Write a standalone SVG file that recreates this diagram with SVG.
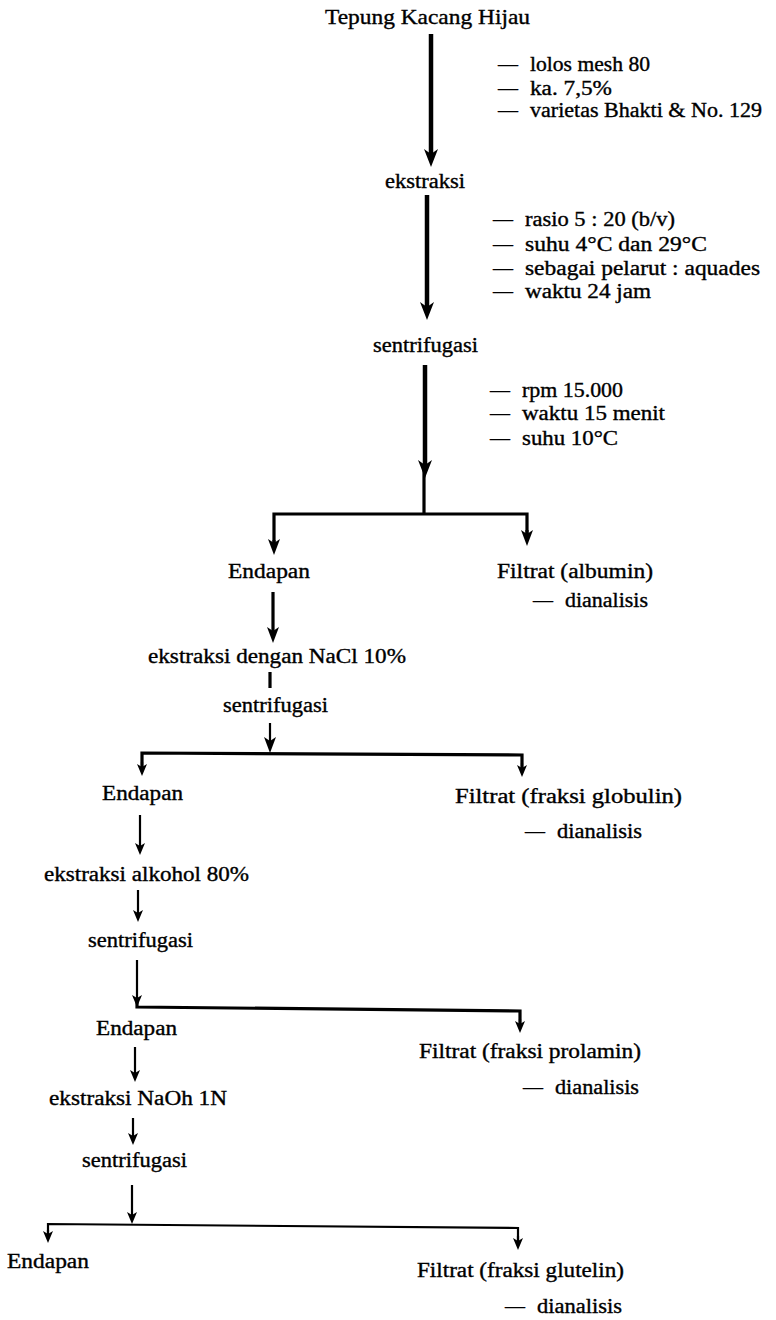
<svg xmlns="http://www.w3.org/2000/svg" width="776" height="1320" viewBox="0 0 776 1320">
<style>
.t{font-family:'Liberation Serif','Times New Roman','DejaVu Serif',serif;font-size:20px;fill:#000;stroke:#000;stroke-width:0.35}
.ti{font-size:21px}
.c{stroke:#000;fill:none;stroke-linecap:butt}
.w4{stroke-width:4.5}
.w3{stroke-width:3.2}
.w2{stroke-width:2.2}
</style>
<defs>
<marker id="hb" viewBox="0 0 18 14" refX="10" refY="7" markerWidth="18" markerHeight="14" orient="auto" markerUnits="userSpaceOnUse"><path d="M0,0 L18,7 L0,14 L5,7 Z" fill="#000"/></marker>
<marker id="hm" viewBox="0 0 16 12" refX="9" refY="6" markerWidth="16" markerHeight="12" orient="auto" markerUnits="userSpaceOnUse"><path d="M0,0 L16,6 L0,12 L4,6 Z" fill="#000"/></marker>
<marker id="hs" viewBox="0 0 12 10" refX="6" refY="5" markerWidth="12" markerHeight="10" orient="auto" markerUnits="userSpaceOnUse"><path d="M0,0 L12,5 L0,10 L3,5 Z" fill="#000"/></marker>
</defs>
<rect width="776" height="1320" fill="#fff"/>

<g id="connectors">
<line class="c w4" x1="431" y1="34" x2="431" y2="159" marker-end="url(#hb)"/>
<line class="c w4" x1="427" y1="195" x2="427" y2="312" marker-end="url(#hb)"/>
<line class="c w4" x1="425" y1="365" x2="425" y2="470" marker-end="url(#hb)"/>
<line class="c w3" x1="424" y1="470" x2="424" y2="514"/>
<polyline class="c w3" points="274,548 274,514 527,514 527,539"/>
<line class="c w3" x1="274" y1="540" x2="274" y2="548" marker-end="url(#hm)"/>
<line class="c w3" x1="527" y1="530" x2="527" y2="539" marker-end="url(#hm)"/>
<line class="c w3" x1="273" y1="592" x2="273" y2="636" marker-end="url(#hm)"/>
<line class="c w3" x1="270" y1="672" x2="270" y2="688"/>
<line class="c w2" x1="270" y1="723" x2="270" y2="746" marker-end="url(#hm)"/>
<polyline class="c w3" points="142,770 142,753 522,755 522,771"/>
<line class="c w2" x1="142" y1="762" x2="142" y2="770" marker-end="url(#hs)"/>
<line class="c w2" x1="522" y1="763" x2="522" y2="771" marker-end="url(#hs)"/>
<line class="c w2" x1="140" y1="815" x2="140" y2="849" marker-end="url(#hs)"/>
<line class="c w2" x1="138" y1="890" x2="138" y2="916" marker-end="url(#hs)"/>
<line class="c w2" x1="137" y1="960" x2="137" y2="1001" marker-end="url(#hs)"/>
<polyline class="c w3" points="137,998 137,1007 520,1011 520,1027"/>
<line class="c w2" x1="520" y1="1019" x2="520" y2="1027" marker-end="url(#hs)"/>
<line class="c w2" x1="135" y1="1047" x2="135" y2="1076" marker-end="url(#hs)"/>
<line class="c w2" x1="133" y1="1118" x2="133" y2="1139" marker-end="url(#hs)"/>
<line class="c w2" x1="132" y1="1185" x2="132" y2="1218" marker-end="url(#hs)"/>
<polyline class="c w2" points="48,1237 48,1224 518,1228 518,1244"/>
<line class="c w2" x1="48" y1="1230" x2="48" y2="1237" marker-end="url(#hs)"/>
<line class="c w2" x1="518" y1="1236" x2="518" y2="1244" marker-end="url(#hs)"/>
</g>

<g font-family="Liberation Serif, Times New Roman, DejaVu Serif, serif">
<g id="n-tepung"><text class="t ti" x="325" y="24" textLength="205" lengthAdjust="spacingAndGlyphs">Tepung Kacang Hijau</text></g>
<g id="n-notes1">
<text class="t" x="498" y="71">— <tspan x="530" textLength="120" lengthAdjust="spacingAndGlyphs">lolos mesh 80</tspan></text>
<text class="t" x="498" y="95">— <tspan x="530" textLength="82" lengthAdjust="spacingAndGlyphs">ka. 7,5%</tspan></text>
<text class="t" x="498" y="117">— <tspan x="530" textLength="232" lengthAdjust="spacingAndGlyphs">varietas Bhakti &amp; No. 129</tspan></text>
</g>
<g id="n-ekstraksi"><text class="t" x="385" y="188" textLength="80" lengthAdjust="spacingAndGlyphs">ekstraksi</text></g>
<g id="n-notes2">
<text class="t" x="493" y="226">— <tspan x="525" textLength="150" lengthAdjust="spacingAndGlyphs">rasio 5 : 20 (b/v)</tspan></text>
<text class="t" x="493" y="251">— <tspan x="525" textLength="182" lengthAdjust="spacingAndGlyphs">suhu 4°C dan 29°C</tspan></text>
<text class="t" x="493" y="275">— <tspan x="525" textLength="235" lengthAdjust="spacingAndGlyphs">sebagai pelarut : aquades</tspan></text>
<text class="t" x="493" y="298">— <tspan x="525" textLength="126" lengthAdjust="spacingAndGlyphs">waktu 24 jam</tspan></text>
</g>
<g id="n-sentrifugasi1"><text class="t" x="373" y="352" textLength="105" lengthAdjust="spacingAndGlyphs">sentrifugasi</text></g>
<g id="n-notes3">
<text class="t" x="490" y="397">— <tspan x="522" textLength="101" lengthAdjust="spacingAndGlyphs">rpm 15.000</tspan></text>
<text class="t" x="490" y="420">— <tspan x="522" textLength="143" lengthAdjust="spacingAndGlyphs">waktu 15 menit</tspan></text>
<text class="t" x="490" y="445">— <tspan x="522" textLength="96" lengthAdjust="spacingAndGlyphs">suhu 10°C</tspan></text>
</g>
<g id="n-endapan1"><text class="t" x="228" y="578" textLength="82" lengthAdjust="spacingAndGlyphs">Endapan</text></g>
<g id="n-albumin">
<text class="t" x="497" y="578" textLength="156" lengthAdjust="spacingAndGlyphs">Filtrat (albumin)</text>
<text class="t" x="533" y="607">— <tspan x="565" textLength="83" lengthAdjust="spacingAndGlyphs">dianalisis</tspan></text>
</g>
<g id="n-nacl"><text class="t" x="148" y="663" textLength="258" lengthAdjust="spacingAndGlyphs">ekstraksi dengan NaCl 10%</text></g>
<g id="n-sentrifugasi2"><text class="t" x="223" y="712" textLength="105" lengthAdjust="spacingAndGlyphs">sentrifugasi</text></g>
<g id="n-endapan2"><text class="t" x="102" y="800" textLength="81" lengthAdjust="spacingAndGlyphs">Endapan</text></g>
<g id="n-globulin">
<text class="t" x="455" y="803" textLength="227" lengthAdjust="spacingAndGlyphs">Filtrat (fraksi globulin)</text>
<text class="t" x="525" y="838">— <tspan x="557" textLength="85" lengthAdjust="spacingAndGlyphs">dianalisis</tspan></text>
</g>
<g id="n-alkohol"><text class="t" x="44" y="881" textLength="205" lengthAdjust="spacingAndGlyphs">ekstraksi alkohol 80%</text></g>
<g id="n-sentrifugasi3"><text class="t" x="88" y="947" textLength="105" lengthAdjust="spacingAndGlyphs">sentrifugasi</text></g>
<g id="n-endapan3"><text class="t" x="96" y="1035" textLength="81" lengthAdjust="spacingAndGlyphs">Endapan</text></g>
<g id="n-prolamin">
<text class="t" x="419" y="1058" textLength="222" lengthAdjust="spacingAndGlyphs">Filtrat (fraksi prolamin)</text>
<text class="t" x="523" y="1094">— <tspan x="555" textLength="84" lengthAdjust="spacingAndGlyphs">dianalisis</tspan></text>
</g>
<g id="n-naoh"><text class="t" x="49" y="1105" textLength="178" lengthAdjust="spacingAndGlyphs">ekstraksi NaOh 1N</text></g>
<g id="n-sentrifugasi4"><text class="t" x="82" y="1167" textLength="105" lengthAdjust="spacingAndGlyphs">sentrifugasi</text></g>
<g id="n-endapan4"><text class="t" x="7" y="1268" textLength="82" lengthAdjust="spacingAndGlyphs">Endapan</text></g>
<g id="n-glutelin">
<text class="t" x="417" y="1277" textLength="207" lengthAdjust="spacingAndGlyphs">Filtrat (fraksi glutelin)</text>
<text class="t" x="505" y="1313">— <tspan x="537" textLength="85" lengthAdjust="spacingAndGlyphs">dianalisis</tspan></text>
</g>
</g>
</svg>
